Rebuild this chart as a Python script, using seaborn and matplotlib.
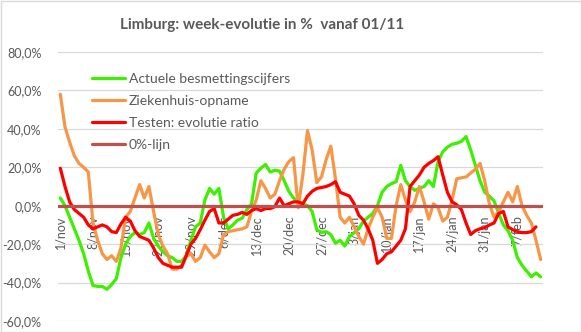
import matplotlib
matplotlib.use("Agg")
import numpy as np
import pandas as pd
import matplotlib.pyplot as plt
import seaborn as sns
from matplotlib.patches import Rectangle
from matplotlib.lines import Line2D

# ---------------- data (week-evolutie in %, dagelijks vanaf 1/11) ----------------
tick_labels = ["1/nov", "8/nov", "15/nov", "22/nov", "29/nov", "6/dec", "13/dec",
               "20/dec", "27/dec", "3/jan", "10/jan", "17/jan", "24/jan", "31/jan", "7/feb"]

actuele = [4, 0, -6, -12, -18, -25, -34, -41.5, -42, -42,
           -43.5, -41, -38, -27, -20, -16, -14, -15, -14, -9,
           -17, -21, -24, -26, -27, -29, -29, -26, -18, -11,
           -9, 3, 9, 6, 9, -6, -12, -10, -7.5, -6.5,
           -2, 1, 17, 19.5, 21.5, 17.5, 18.5, 18, 13, 7.5,
           4, 2, 1, 0, -3, -12.5, -14, -13.5, -15, -19.5,
           -18, -21, -16, -14, -12, -8, -6, -4, 0, 7,
           10, 11.5, 12.5, 21, 13, 10, 8, 9, 10, 13,
           10, 23, 28, 30.5, 32, 32.5, 33.5, 36, 29, 21,
           13, 7, 5, 2.5, -4, -10, -13, -18, -27, -31,
           -34, -37, -35, -37]

ziekenhuis = [58, 41, 33, 26, 22, 20, 17.5, -9, -18, -25,
              -28, -26, -29, -22, -6, -3, 4, 11, 4, 10,
              -3, -15, -21, -25, -33, -33, -31, -26.5, -25, -29,
              -27, -20.5, -24, -27, -25, -15, -13.5, -13, -12.5, -12,
              -11, -3, 3, 13, 9, 4, 6, 13, 19, 23,
              25, -1, 16, 39, 29, 12, 15, 24, 31, 14,
              -6, -9, -6, -11, -16, -20, -12, -6, -1, -6,
              -17, -17, 0, 11, 3, -3, 2, 10, 2, -7,
              1, -1, -8, -6, 3, 14, 14.5, 15, 17, 19,
              22, 13, 1, -6, -3, 2, 7, 2, 10, 0,
              -5, -9, -18, -28]

testen = [19.5, 10, 2, -2, -4, -6, -10, -12, -11, -10,
          -11, -13.5, -14, -9.5, -6, -8, -13, -16, -17, -18,
          -22, -27, -30, -31, -32, -32, -32, -26, -20, -17,
          -12.5, -7.5, -3, -1.5, -9, -9, -7, -5, -4.5, -3.5,
          -4.5, -2.5, -1.5, -2.5, -1.5, -1.5, -0.5, 4, 0, 1,
          2, 2, 1, 5, 7.5, 9, 9.5, 10, 11, 12.5,
          7, 6, 5, 1, -5, -7.5, -12, -18, -30, -28,
          -25, -24, -21, -18, -12, 10, 13, 16, 20, 22,
          23.5, 25.5, 16, 7, 2, 0.5, -2, -9, -15, -13,
          -12, -11.5, -10, -9, -4, -3, -11, -12.5, -13.5, -14,
          -14, -13.5, -11, np.nan]

series_names = ["Actuele besmettingscijfers", "Ziekenhuis-opname", "Testen: evolutie ratio"]
zero_label = "0%-lijn"
colors = {"Actuele besmettingscijfers": "#3CF000",
          "Ziekenhuis-opname": "#F79646",
          "Testen: evolutie ratio": "#FF0000"}
zero_color = "#C0504D"
y_ticks = [-60, -40, -20, 0, 20, 40, 60, 80]

n = len(actuele)
df = pd.DataFrame({"dag": np.arange(n),
                   series_names[0]: actuele,
                   series_names[1]: ziekenhuis,
                   series_names[2]: testen})
long = df.melt(id_vars="dag", var_name="reeks", value_name="waarde").dropna()

# ---------------- style ----------------
sns.set_style("white")
plt.rcParams["font.family"] = ["Lato", "DejaVu Sans"]
txt = "#595959"

fig = plt.figure(figsize=(5.81, 3.32), dpi=100)
ax = fig.add_axes([58 / 581, 1 - 321 / 332, (543 - 58) / 581, (321 - 52) / 332])

sns.lineplot(data=long, x="dag", y="waarde", hue="reeks", hue_order=series_names,
             palette=colors, linewidth=2.3, estimator=None, sort=False,
             legend=False, ax=ax)
for ln in ax.get_lines():
    ln.set_solid_joinstyle("round")
    ln.set_solid_capstyle("round")

ax.axhline(0, color=zero_color, lw=2.3, zorder=5)

ax.set_xlim(-0.5, n - 0.5)
ax.set_ylim(-60, 80)
ax.set_yticks(y_ticks)
ax.set_yticklabels([f"{v:.1f}%".replace(".", ",") for v in y_ticks])
ax.yaxis.grid(True, color="#D9D9D9", lw=0.9)
ax.xaxis.grid(False)
ax.set_axisbelow(True)
for s in ax.spines.values():
    s.set_visible(False)
ax.spines["bottom"].set_position(("data", 0))

ax.set_xticks(np.arange(0, n, 7)[:len(tick_labels)])
ax.set_xticklabels(tick_labels, rotation=90, va="top", ha="center")
ax.set_xticks(np.arange(-0.5, n, 14), minor=True)
ax.tick_params(axis="x", which="major", length=0, pad=7, labelsize=9, labelcolor=txt)
ax.tick_params(axis="x", which="minor", length=3.5, width=0.8, color="#BFBFBF", direction="out")
ax.tick_params(axis="y", length=0, pad=12, labelsize=9, labelcolor=txt)
ax.set_xlabel("")
ax.set_ylabel("")

handles = [Line2D([], [], color=colors[s], lw=2.3) for s in series_names]
handles.append(Line2D([], [], color=zero_color, lw=2.3))
leg = ax.legend(handles, series_names + [zero_label], loc="upper left",
                bbox_to_anchor=(92 / 581, 1 - 73 / 332), bbox_transform=fig.transFigure,
                frameon=False, fontsize=10, handlelength=2.4, handletextpad=0.25,
                labelspacing=0.71, borderpad=0, borderaxespad=0)
for t in leg.get_texts():
    t.set_color(txt)

fig.text(262 / 581, 1 - 25 / 332, "Limburg: week-evolutie in %  vanaf 01/11",
         ha="center", va="center", fontsize=11, fontweight="bold", color=txt)

fig.patches.append(Rectangle((0.5 / 581, 0.5 / 332), 1 - 1 / 581, 1 - 1 / 332,
                             transform=fig.transFigure, fill=False,
                             edgecolor="#D9D9D9", lw=1))

fig.savefig("out.png", dpi=100)
